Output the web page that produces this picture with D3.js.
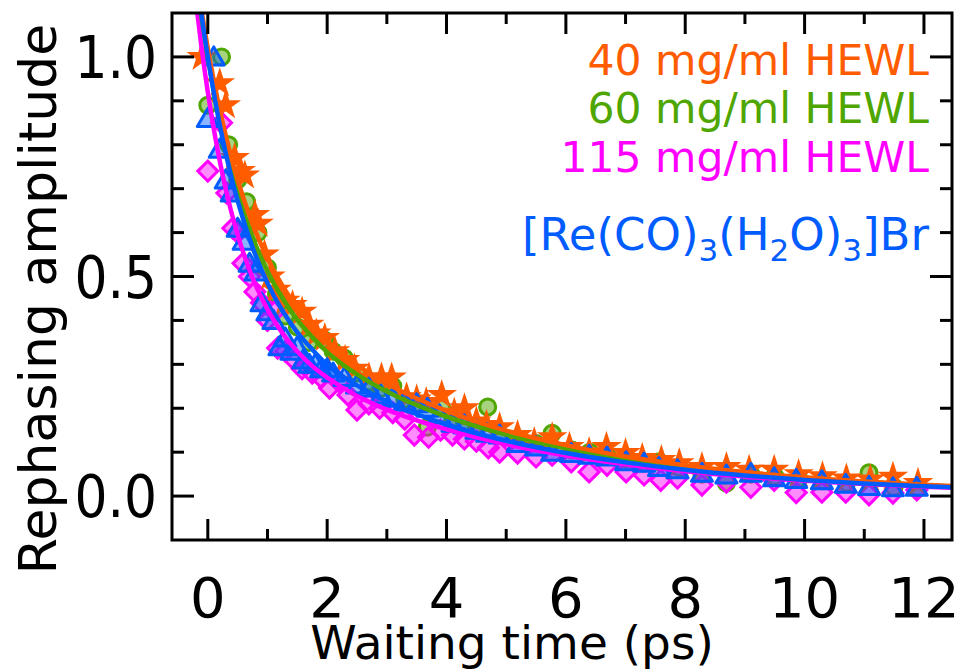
<!DOCTYPE html>
<html><head><meta charset="utf-8">
<script src="https://cdn.jsdelivr.net/npm/d3@7"></script>
<style>body{margin:0;background:#fff}text{font-family:"DejaVu Sans",sans-serif}</style>
</head><body><svg id="c" width="959" height="672"></svg>
<script>
// ---- data ----
const xTicks = [0, 2, 4, 6, 8, 10, 12];
const yTicks = [0.0, 0.5, 1.0];
const xTickLabels = ["0", "2", "4", "6", "8", "10", "12"];
const yTickLabels = ["0.0", "0.5", "1.0"];
const legendLabels = ["40 mg/ml HEWL", "60 mg/ml HEWL", "115 mg/ml HEWL"];
const colors = ["#ff5c00", "#4fa600", "#ff00ff", "#005cff"];

const orangeStars = [[-0.1,1.0],[0.2,0.94],[0.3,0.89],[0.45,0.77],[0.55,0.74],[0.62,0.73],[0.79,0.64],[0.85,0.62],[0.95,0.55],[1.05,0.50],[1.15,0.47],[1.3,0.445],[1.42,0.435],[1.58,0.42],[1.7,0.39],[1.82,0.37],[1.96,0.36],[2.13,0.33],[2.3,0.31],[2.46,0.29],[2.7,0.27],[2.91,0.27],[3.08,0.27],[3.33,0.225],[3.5,0.22],[3.66,0.214],[3.92,0.23],[4.13,0.19],[4.3,0.20],[4.5,0.17],[4.67,0.162],[4.89,0.157],[5.19,0.139],[5.47,0.123],[5.77,0.134],[6.06,0.112],[6.39,0.10],[6.68,0.112],[7.0,0.098],[7.28,0.087],[7.6,0.082],[7.9,0.075],[8.28,0.066],[8.69,0.066],[9.07,0.06],[9.49,0.06],[9.9,0.05],[10.3,0.045],[10.7,0.04],[11.1,0.038],[11.48,0.044],[11.9,0.03]];
const greenCircles = [[0.0,0.89],[0.23,1.0],[0.35,0.80],[0.5,0.72],[0.65,0.67],[0.84,0.60],[1.0,0.52],[1.15,0.46],[1.3,0.41],[1.5,0.385],[1.7,0.35],[1.96,0.355],[2.1,0.33],[2.29,0.314],[2.5,0.28],[2.7,0.26],[2.9,0.245],[3.1,0.25],[3.3,0.22],[3.5,0.21],[3.68,0.157],[3.92,0.2],[4.1,0.17],[4.3,0.165],[4.5,0.16],[4.69,0.203],[4.89,0.14],[5.2,0.13],[5.5,0.12],[5.77,0.143],[6.1,0.105],[6.4,0.1],[6.7,0.09],[7.0,0.085],[7.3,0.075],[7.56,0.078],[7.9,0.065],[8.28,0.05],[8.69,0.03],[9.1,0.05],[9.5,0.045],[9.9,0.04],[10.3,0.035],[10.7,0.03],[11.08,0.053],[11.5,0.02],[11.9,0.018]];
const magentaDiamonds = [[0.0,0.74],[0.23,0.85],[0.32,0.69],[0.42,0.61],[0.5,0.6],[0.59,0.53],[0.7,0.50],[0.79,0.465],[0.9,0.44],[1.0,0.40],[1.12,0.42],[1.17,0.337],[1.3,0.33],[1.45,0.31],[1.58,0.29],[1.75,0.28],[1.9,0.27],[2.04,0.246],[2.2,0.26],[2.35,0.23],[2.5,0.196],[2.7,0.21],[2.88,0.20],[3.1,0.19],[3.3,0.175],[3.46,0.139],[3.7,0.134],[3.9,0.15],[4.1,0.139],[4.3,0.13],[4.5,0.125],[4.7,0.11],[4.89,0.10],[5.19,0.098],[5.5,0.089],[5.77,0.093],[6.09,0.078],[6.39,0.055],[6.69,0.07],[7.01,0.055],[7.31,0.048],[7.59,0.036],[7.87,0.041],[8.28,0.025],[8.69,0.032],[9.1,0.02],[9.49,0.036],[9.86,0.008],[10.29,0.009],[10.69,0.009],[11.08,0.003],[11.48,0.007],[11.88,0.014]];
const blueTriangles = [[0.0,0.86],[0.1,1.00],[0.2,0.79],[0.3,0.72],[0.4,0.69],[0.5,0.61],[0.6,0.58],[0.7,0.53],[0.8,0.51],[0.9,0.44],[1.0,0.42],[1.1,0.40],[1.2,0.34],[1.3,0.36],[1.4,0.33],[1.5,0.34],[1.6,0.31],[1.7,0.30],[1.8,0.30],[1.9,0.29],[2.0,0.29],[2.1,0.28],[2.29,0.27],[2.5,0.253],[2.7,0.246],[2.9,0.23],[3.1,0.223],[3.3,0.214],[3.5,0.21],[3.68,0.20],[3.88,0.185],[4.1,0.166],[4.3,0.162],[4.5,0.15],[4.68,0.143],[4.89,0.139],[5.19,0.12],[5.5,0.112],[5.77,0.10],[6.09,0.097],[6.39,0.093],[6.69,0.089],[7.01,0.078],[7.31,0.075],[7.56,0.065],[7.87,0.06],[8.28,0.052],[8.69,0.048],[9.1,0.052],[9.49,0.042],[9.86,0.038],[10.29,0.035],[10.69,0.027],[11.08,0.022],[11.48,0.019],[11.88,0.02]];

const fitT       = [-0.3, -0.2, -0.1, 0, 0.125, 0.25, 0.375, 0.5, 0.75, 1, 1.25, 1.5, 1.75, 2, 2.5, 3, 4, 5, 6, 7, 8, 9, 10, 11, 12, 12.5];
const orangeFit  = [1.299, 1.195, 1.102, 1.02, 0.929, 0.850, 0.781, 0.720, 0.620, 0.541, 0.479, 0.429, 0.387, 0.352, 0.298, 0.256, 0.194, 0.149, 0.116, 0.0903, 0.0704, 0.0548, 0.0427, 0.0332, 0.0259, 0.0229];
const greenFit   = [1.293, 1.183, 1.086, 1.0, 0.905, 0.824, 0.753, 0.691, 0.590, 0.512, 0.451, 0.401, 0.362, 0.328, 0.277, 0.238, 0.181, 0.140, 0.109, 0.0853, 0.0666, 0.052, 0.0407, 0.0318, 0.0248, 0.0219];
const magentaFit = [1.255, 1.127, 1.016, 0.92, 0.817, 0.730, 0.657, 0.595, 0.497, 0.425, 0.371, 0.329, 0.296, 0.270, 0.228, 0.197, 0.152, 0.118, 0.0925, 0.0725, 0.0568, 0.0445, 0.0349, 0.0273, 0.0214, 0.019];
const blueFit    = [1.315, 1.196, 1.091, 1.0, 0.899, 0.812, 0.737, 0.672, 0.566, 0.485, 0.422, 0.373, 0.334, 0.299, 0.252, 0.215, 0.163, 0.126, 0.0981, 0.0768, 0.0601, 0.047, 0.0368, 0.0288, 0.0226, 0.020];

// ---- layout ----
const svg = d3.select("#c");
const L = 172, R = 952, T = 13, B = 540;
const x = d3.scaleLinear().domain([-0.6, 12.47]).range([L, R]);
const y = d3.scaleLinear().domain([-0.1, 1.1]).range([B, T]);

svg.append("defs").append("clipPath").attr("id", "clip")
  .append("rect").attr("x", L).attr("y", T).attr("width", R - L).attr("height", B - T);
const plot = svg.append("g").attr("clip-path", "url(#clip)");

const diamond = s => `M0,${-s}L${s},0L0,${s}L${-s},0Z`;
const triangle = s => `M0,${-s}L${s*1.05},${s*0.8}L${-s*1.05},${s*0.8}Z`;

// markers
plot.append("g").selectAll("circle").data(greenCircles).join("circle")
  .attr("cx", d => x(d[0])).attr("cy", d => y(d[1])).attr("r", 8)
  .attr("fill", colors[1]).attr("fill-opacity", 0.5).attr("stroke", colors[1]).attr("stroke-width", 3);
plot.append("g").selectAll("path").data(magentaDiamonds).join("path")
  .attr("transform", d => `translate(${x(d[0])},${y(d[1])})`).attr("d", diamond(10))
  .attr("fill", colors[2]).attr("fill-opacity", 0.45).attr("stroke", colors[2]).attr("stroke-width", 3);
plot.append("g").selectAll("path").data(orangeStars).join("path")
  .attr("transform", d => `translate(${x(d[0])},${y(d[1])})`).attr("d", d3.symbol(d3.symbolStar, 210)())
  .attr("fill", colors[0]).attr("stroke", colors[0]).attr("stroke-width", 1.5);
plot.append("g").selectAll("path").data(blueTriangles).join("path")
  .attr("transform", d => `translate(${x(d[0])},${y(d[1])})`).attr("d", triangle(10))
  .attr("fill", colors[3]).attr("fill-opacity", 0.45).attr("stroke", colors[3]).attr("stroke-width", 3).attr("stroke-linejoin", "round");

// fits
const line = d3.line().x(d => x(d[0])).y(d => y(d[1])).curve(d3.curveMonotoneX);
[[magentaFit, colors[2]], [greenFit, colors[1]], [orangeFit, colors[0]], [blueFit, colors[3]]].forEach(([vals, c]) => {
  plot.append("path").datum(fitT.map((t, i) => [t, vals[i]])).attr("d", line)
    .attr("fill", "none").attr("stroke", c).attr("stroke-width", 4.5);
});

// frame
svg.append("rect").attr("x", L).attr("y", T).attr("width", R - L).attr("height", B - T)
  .attr("fill", "none").attr("stroke", "#000").attr("stroke-width", 3);

// ticks
const ax = svg.append("g").attr("stroke", "#000").attr("stroke-width", 3);
d3.range(0, 13, 1).forEach(v => {
  const major = v % 2 === 0, len = major ? 21 : 11, px = x(v);
  ax.append("line").attr("x1", px).attr("x2", px).attr("y1", B).attr("y2", B - len);
  ax.append("line").attr("x1", px).attr("x2", px).attr("y1", T).attr("y2", T + len);
});
d3.range(0, 11, 1).forEach(i => {
  const v = i / 10, major = i % 5 === 0, len = major ? 22 : 12, py = y(v);
  ax.append("line").attr("x1", L).attr("x2", L + len).attr("y1", py).attr("y2", py);
  ax.append("line").attr("x1", R).attr("x2", R - len).attr("y1", py).attr("y2", py);
});

// tick labels
svg.append("g").selectAll("text").data(xTicks).join("text")
  .attr("x", d => x(d)).attr("y", 617).attr("text-anchor", "middle")
  .attr("font-size", 56).text((d, i) => xTickLabels[i]);
svg.append("g").selectAll("text").data(yTicks).join("text")
  .attr("transform", d => `translate(157,${y(d) + 21}) scale(0.88,1)`).attr("text-anchor", "end")
  .attr("font-size", 59).text((d, i) => yTickLabels[i]);

// axis titles
svg.append("text").attr("x", 512).attr("y", 659).attr("text-anchor", "middle")
  .attr("font-size", 47).text("Waiting time (ps)");
svg.append("text").attr("transform", "translate(56,299) rotate(-90)").attr("text-anchor", "middle")
  .attr("font-size", 52).text("Rephasing amplitude");

// legend
const legY = [75, 123, 172];
legendLabels.forEach((s, i) => {
  svg.append("text").attr("x", 929).attr("y", legY[i]).attr("text-anchor", "end")
    .attr("font-size", 42.5).attr("fill", colors[i]).text(s);
});
const re = svg.append("text").attr("x", 929).attr("y", 250).attr("text-anchor", "end")
  .attr("font-size", 45).attr("fill", colors[3]);
[["[Re(CO)", 0], ["3", 1], ["(H", 0], ["2", 1], ["O)", 0], ["3", 1], ["]Br", 0]].forEach(([s, sub], i, arr) => {
  const ts = re.append("tspan").text(s);
  if (sub) ts.attr("font-size", 31).attr("dy", 11);
  else if (i > 0 && arr[i - 1][1]) ts.attr("dy", -11);
});
</script></body></html>
